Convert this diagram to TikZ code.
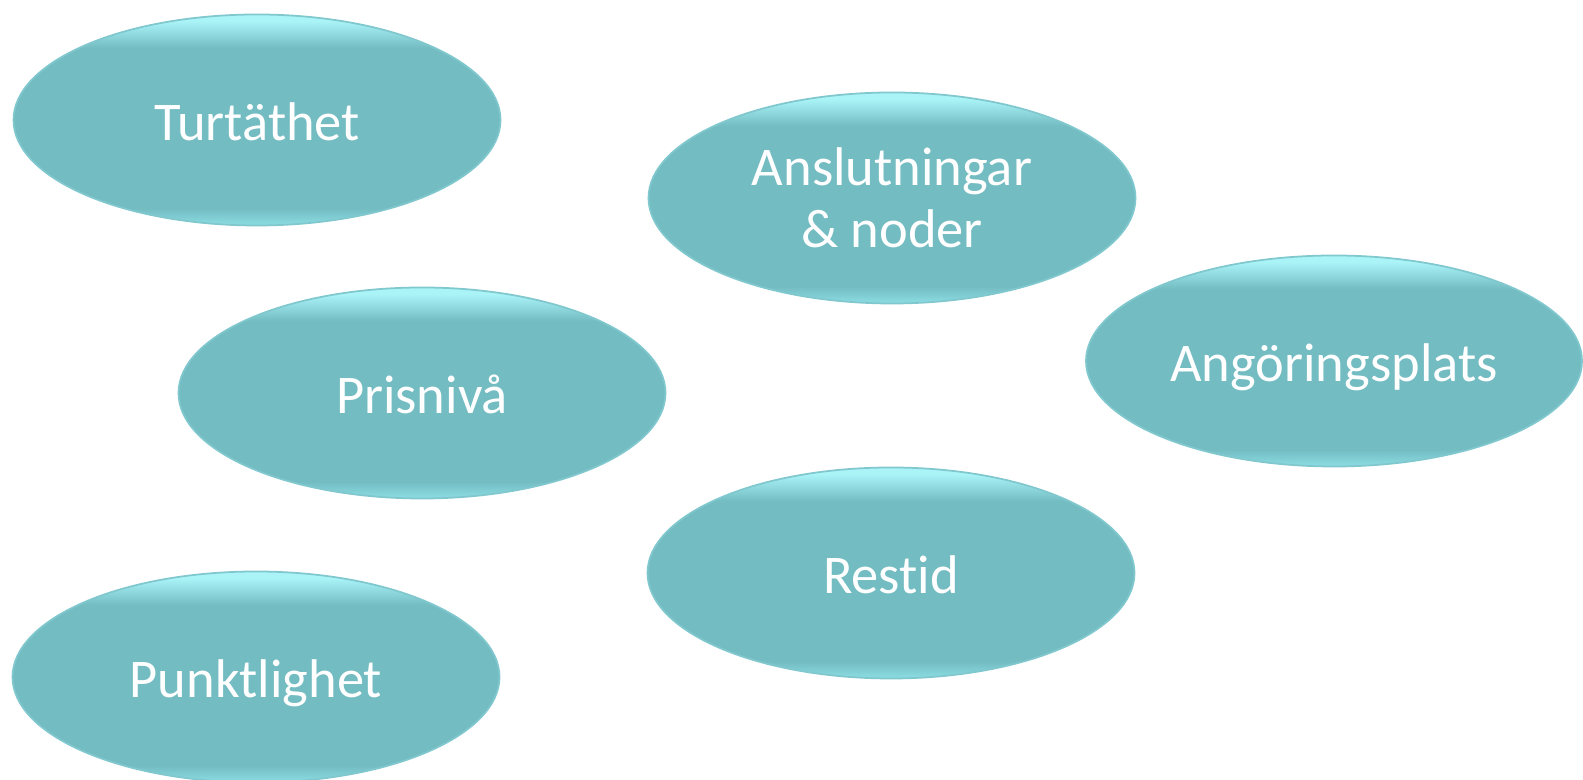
\documentclass[tikz,border=0pt]{standalone}
\usepackage{fontspec}
\setmainfont{Carlito}[Ligatures=NoCommon]
\usetikzlibrary{shapes.geometric}

\definecolor{bubblebody}{RGB}{115,188,194}
\definecolor{bubbletop}{RGB}{170,244,248}
\definecolor{bubblebottom}{RGB}{140,222,228}
\definecolor{bubbleedge}{RGB}{128,200,206}

% light rim at the top and bottom of each bubble
\pgfdeclareverticalshading{bubbleshade}{100bp}{%
  color(0bp)=(bubblebottom); color(25bp)=(bubblebottom);
  color(29bp)=(bubblebody); color(67bp)=(bubblebody);
  color(73.5bp)=(bubbletop); color(100bp)=(bubbletop)}

\begin{document}
\begin{tikzpicture}[
  x=0.1mm, y=-0.1mm,
  bubble/.style={ellipse, shade, shading=bubbleshade, draw=bubbleedge, line width=0.5pt,
    minimum width=48.7mm, minimum height=21.1mm, inner sep=0pt,
    text=white, align=center, font=\fontsize{15.5}{17.5}\selectfont},
  oneline/.style={text height=11.8pt, text depth=0pt}
]

% page frame
\useasboundingbox (0,0) rectangle (1583,780);

% ============================================
% Left column
% ============================================
\node[bubble, oneline] (turtathet) at (257,120) {Turtäthet};
\node[bubble, oneline] (prisniva) at (422,393) {Prisnivå};
\node[bubble, oneline] (punktlighet) at (256,677) {Punktlighet};

% ============================================
% Middle column
% ============================================
\node[bubble] (anslutningar) at (892,198) {Anslutningar\\\& noder};
\node[bubble, oneline] (restid) at (891,573) {Restid};

% ============================================
% Right side
% ============================================
\node[bubble, oneline, minimum width=49.6mm] (angoring) at (1334,361) {Angöringsplats};

\end{tikzpicture}
\end{document}
